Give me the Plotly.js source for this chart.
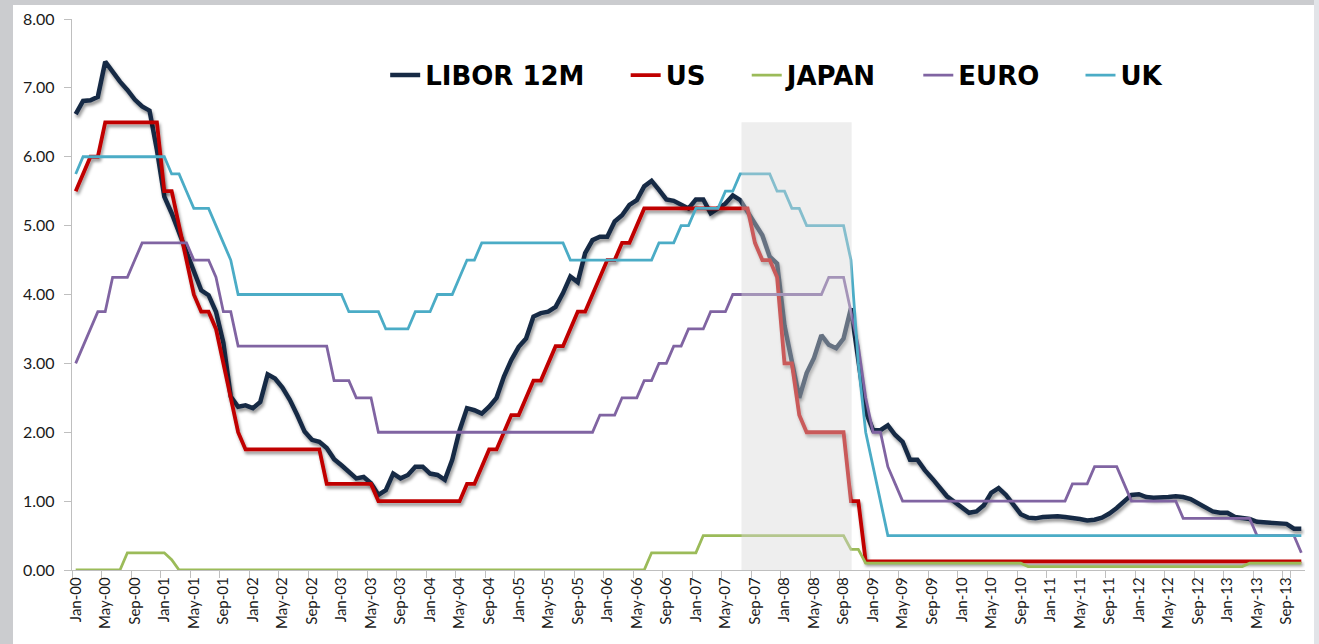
<!DOCTYPE html>
<html><head><meta charset="utf-8">
<script src="https://cdn.plot.ly/plotly-3.0.1.min.js"></script>
<style>
html,body{margin:0;padding:0;width:1319px;height:644px;overflow:hidden;background:#cbcccf;}
#frame{position:absolute;left:13px;top:5px;width:1301px;height:639px;background:#fff;}
#rstrip{position:absolute;left:1314px;top:0;width:5px;height:644px;background:#e2e4e8;}
#chart{width:1301px;height:639px;}
.scatterlayer .trace:nth-of-type(1) path.js-line,
.scatterlayer .trace:nth-of-type(2) path.js-line{filter:url(#shadow);}
</style></head>
<body>
<svg width="0" height="0" style="position:absolute"><defs>
<filter id="shadow" filterUnits="userSpaceOnUse" x="-200" y="-200" width="2000" height="1200">
<feDropShadow dx="1.5" dy="3" stdDeviation="1.6" flood-color="#000" flood-opacity="0.4"/>
</filter></defs></svg>
<div id="rstrip"></div>
<div id="frame"><div id="chart"></div></div>
<script>
// ---- data ----
const monthNames = ['Jan','Feb','Mar','Apr','May','Jun','Jul','Aug','Sep','Oct','Nov','Dec'];
const yearLabels = ['00','01','02','03','04','05','06','07','08','09','10','11','12','13'];
const lastYearMonths = 11; // Jan-13 .. Nov-13

const seriesNames = ['LIBOR 12M','US','JAPAN','EURO','UK'];
const seriesColors = ['#172a45','#c00000','#9bbb59','#8064a2','#4bacc6'];

const libor12m = [
 6.62,6.81,6.82,6.87,7.38,7.23,7.09,6.97,6.83,6.73,6.67,6.10,
 5.42,5.18,4.89,4.60,4.35,4.06,3.99,3.75,3.30,2.52,2.37,2.39,
 2.35,2.44,2.84,2.78,2.65,2.47,2.25,2.01,1.89,1.86,1.77,1.61,
 1.52,1.43,1.33,1.35,1.26,1.09,1.16,1.40,1.33,1.38,1.50,1.50,
 1.40,1.38,1.31,1.60,2.03,2.35,2.32,2.27,2.37,2.50,2.81,3.05,
 3.24,3.36,3.68,3.73,3.75,3.82,4.02,4.26,4.18,4.60,4.79,4.84,
 4.84,5.06,5.15,5.30,5.37,5.57,5.65,5.52,5.38,5.36,5.30,5.25,
 5.38,5.38,5.18,5.26,5.32,5.44,5.37,5.20,5.03,4.86,4.55,4.45,
 3.55,3.00,2.50,2.86,3.08,3.41,3.27,3.22,3.36,3.80,3.00,2.30,
 2.03,2.03,2.10,1.96,1.86,1.60,1.60,1.45,1.33,1.21,1.07,0.99,
 0.90,0.83,0.85,0.94,1.12,1.19,1.09,0.94,0.81,0.76,0.75,0.77,
 0.78,0.78,0.77,0.76,0.74,0.72,0.73,0.76,0.82,0.90,0.99,1.09,
 1.10,1.06,1.05,1.05,1.06,1.07,1.06,1.03,0.97,0.90,0.85,0.83,
 0.83,0.77,0.75,0.74,0.70,0.69,0.68,0.67,0.67,0.60,0.60];

const usRate = [
 5.50,5.75,6.00,6.00,6.50,6.50,6.50,6.50,6.50,6.50,6.50,6.50,
 5.50,5.50,5.00,4.50,4.00,3.75,3.75,3.50,3.00,2.50,2.00,1.75,
 1.75,1.75,1.75,1.75,1.75,1.75,1.75,1.75,1.75,1.75,1.25,1.25,
 1.25,1.25,1.25,1.25,1.25,1.00,1.00,1.00,1.00,1.00,1.00,1.00,
 1.00,1.00,1.00,1.00,1.00,1.25,1.25,1.50,1.75,1.75,2.00,2.25,
 2.25,2.50,2.75,2.75,3.00,3.25,3.25,3.50,3.75,3.75,4.00,4.25,
 4.50,4.50,4.75,4.75,5.00,5.25,5.25,5.25,5.25,5.25,5.25,5.25,
 5.25,5.25,5.25,5.25,5.25,5.25,5.25,5.25,4.75,4.50,4.50,4.25,
 3.00,3.00,2.25,2.00,2.00,2.00,2.00,2.00,2.00,1.00,1.00,0.125,
 0.125,0.125,0.125,0.125,0.125,0.125,0.125,0.125,0.125,0.125,0.125,0.125,
 0.125,0.125,0.125,0.125,0.125,0.125,0.125,0.125,0.125,0.125,0.125,0.125,
 0.125,0.125,0.125,0.125,0.125,0.125,0.125,0.125,0.125,0.125,0.125,0.125,
 0.125,0.125,0.125,0.125,0.125,0.125,0.125,0.125,0.125,0.125,0.125,0.125,
 0.125,0.125,0.125,0.125,0.125,0.125,0.125,0.125,0.125,0.125,0.125];

const japanRate = [
 0,0,0,0,0,0,0,0.25,0.25,0.25,0.25,0.25,
 0.25,0.15,0,0,0,0,0,0,0,0,0,0,
 0,0,0,0,0,0,0,0,0,0,0,0,
 0,0,0,0,0,0,0,0,0,0,0,0,
 0,0,0,0,0,0,0,0,0,0,0,0,
 0,0,0,0,0,0,0,0,0,0,0,0,
 0,0,0,0,0,0,0.25,0.25,0.25,0.25,0.25,0.25,
 0.25,0.50,0.50,0.50,0.50,0.50,0.50,0.50,0.50,0.50,0.50,0.50,
 0.50,0.50,0.50,0.50,0.50,0.50,0.50,0.50,0.50,0.30,0.30,0.10,
 0.10,0.10,0.10,0.10,0.10,0.10,0.10,0.10,0.10,0.10,0.10,0.10,
 0.10,0.10,0.10,0.10,0.10,0.10,0.10,0.10,0.10,0.05,0.05,0.05,
 0.05,0.05,0.05,0.05,0.05,0.05,0.05,0.05,0.05,0.05,0.05,0.05,
 0.05,0.05,0.05,0.05,0.05,0.05,0.05,0.05,0.05,0.05,0.05,0.05,
 0.05,0.05,0.05,0.10,0.10,0.10,0.10,0.10,0.10,0.10,0.10];

const euroRate = [
 3.00,3.25,3.50,3.75,3.75,4.25,4.25,4.25,4.50,4.75,4.75,4.75,
 4.75,4.75,4.75,4.75,4.50,4.50,4.50,4.25,3.75,3.75,3.25,3.25,
 3.25,3.25,3.25,3.25,3.25,3.25,3.25,3.25,3.25,3.25,3.25,2.75,
 2.75,2.75,2.50,2.50,2.50,2.00,2.00,2.00,2.00,2.00,2.00,2.00,
 2.00,2.00,2.00,2.00,2.00,2.00,2.00,2.00,2.00,2.00,2.00,2.00,
 2.00,2.00,2.00,2.00,2.00,2.00,2.00,2.00,2.00,2.00,2.00,2.25,
 2.25,2.25,2.50,2.50,2.50,2.75,2.75,3.00,3.00,3.25,3.25,3.50,
 3.50,3.50,3.75,3.75,3.75,4.00,4.00,4.00,4.00,4.00,4.00,4.00,
 4.00,4.00,4.00,4.00,4.00,4.00,4.25,4.25,4.25,3.75,3.25,2.50,
 2.00,2.00,1.50,1.25,1.00,1.00,1.00,1.00,1.00,1.00,1.00,1.00,
 1.00,1.00,1.00,1.00,1.00,1.00,1.00,1.00,1.00,1.00,1.00,1.00,
 1.00,1.00,1.00,1.25,1.25,1.25,1.50,1.50,1.50,1.50,1.25,1.00,
 1.00,1.00,1.00,1.00,1.00,1.00,0.75,0.75,0.75,0.75,0.75,0.75,
 0.75,0.75,0.75,0.75,0.50,0.50,0.50,0.50,0.50,0.50,0.25];

const ukRate = [
 5.75,6.00,6.00,6.00,6.00,6.00,6.00,6.00,6.00,6.00,6.00,6.00,
 6.00,5.75,5.75,5.50,5.25,5.25,5.25,5.00,4.75,4.50,4.00,4.00,
 4.00,4.00,4.00,4.00,4.00,4.00,4.00,4.00,4.00,4.00,4.00,4.00,
 4.00,3.75,3.75,3.75,3.75,3.75,3.50,3.50,3.50,3.50,3.75,3.75,
 3.75,4.00,4.00,4.00,4.25,4.50,4.50,4.75,4.75,4.75,4.75,4.75,
 4.75,4.75,4.75,4.75,4.75,4.75,4.75,4.50,4.50,4.50,4.50,4.50,
 4.50,4.50,4.50,4.50,4.50,4.50,4.50,4.75,4.75,4.75,5.00,5.00,
 5.25,5.25,5.25,5.25,5.50,5.50,5.75,5.75,5.75,5.75,5.75,5.50,
 5.50,5.25,5.25,5.00,5.00,5.00,5.00,5.00,5.00,4.50,3.00,2.00,
 1.50,1.00,0.50,0.50,0.50,0.50,0.50,0.50,0.50,0.50,0.50,0.50,
 0.50,0.50,0.50,0.50,0.50,0.50,0.50,0.50,0.50,0.50,0.50,0.50,
 0.50,0.50,0.50,0.50,0.50,0.50,0.50,0.50,0.50,0.50,0.50,0.50,
 0.50,0.50,0.50,0.50,0.50,0.50,0.50,0.50,0.50,0.50,0.50,0.50,
 0.50,0.50,0.50,0.50,0.50,0.50,0.50,0.50,0.50,0.50,0.50];

// crisis shading (category positions / rate level)
const crisisStart = 90.18, crisisEnd = 105.1, crisisTop = 6.5;

// ---- build categories ----
const categories = [];
yearLabels.forEach((yy, yi) => {
  const n = (yi === yearLabels.length - 1) ? lastYearMonths : 12;
  for (let m = 0; m < n; m++) categories.push(monthNames[m] + '-' + yy);
});
const tickLabels = categories.filter((c, i) => i % 4 === 0);

const seriesValues = [libor12m, usRate, japanRate, euroRate, ukRate];
const widths = [4.5, 3.8, 2.8, 2.8, 2.8];
const pad = '\u00a0\u00a0\u00a0\u00a0';

const traces = seriesValues.map((vals, k) => ({
  type: 'scatter', mode: 'lines',
  x: categories, y: vals,
  name: seriesNames[k] + pad,
  line: {color: seriesColors[k], width: widths[k]},
  hoverinfo: 'skip'
}));

const font = 'Lato, "Open Sans", sans-serif';
const layout = {
  width: 1301, height: 639,
  margin: {l: 59, r: 9, t: 14, b: 74},
  paper_bgcolor: '#fff', plot_bgcolor: '#fff',
  showlegend: true,
  legend: {
    orientation: 'h', x: 0.254, y: 0.898, xanchor: 'left', yanchor: 'middle',
    font: {family: '"DejaVu Sans", sans-serif', size: 26, weight: 700, color: '#000'},
    bgcolor: 'rgba(0,0,0,0)'
  },
  xaxis: {
    type: 'category', range: [-0.5, categories.length - 0.5],
    tickmode: 'array', tickvals: tickLabels, ticktext: tickLabels,
    tickson: 'boundaries',
    ticks: 'outside', ticklen: 7, tickcolor: '#bfbfbf', tickwidth: 1,
    showline: true, linecolor: '#bfbfbf', linewidth: 1.3,
    tickangle: -90, tickfont: {family: font, size: 15, color: '#1a1a1a'},
    showgrid: false, zeroline: false, fixedrange: true
  },
  yaxis: {
    range: [0, 8], dtick: 1, tick0: 0, tickformat: '.2f',
    ticks: 'outside', ticklen: 7, tickcolor: '#bfbfbf', tickwidth: 1,
    ticklabelstandoff: 6,
    showline: true, linecolor: '#bfbfbf', linewidth: 1.3,
    tickfont: {family: font, size: 16, color: '#1a1a1a'},
    showgrid: false, zeroline: false, fixedrange: true
  },
  shapes: [{
    type: 'rect', xref: 'x', yref: 'y',
    x0: crisisStart, x1: crisisEnd, y0: 0, y1: crisisTop,
    fillcolor: 'rgba(214,214,214,0.42)', line: {width: 0}, layer: 'above'
  }]
};

Plotly.newPlot('chart', traces, layout, {displayModeBar: false, staticPlot: true});
</script>
</body></html>
